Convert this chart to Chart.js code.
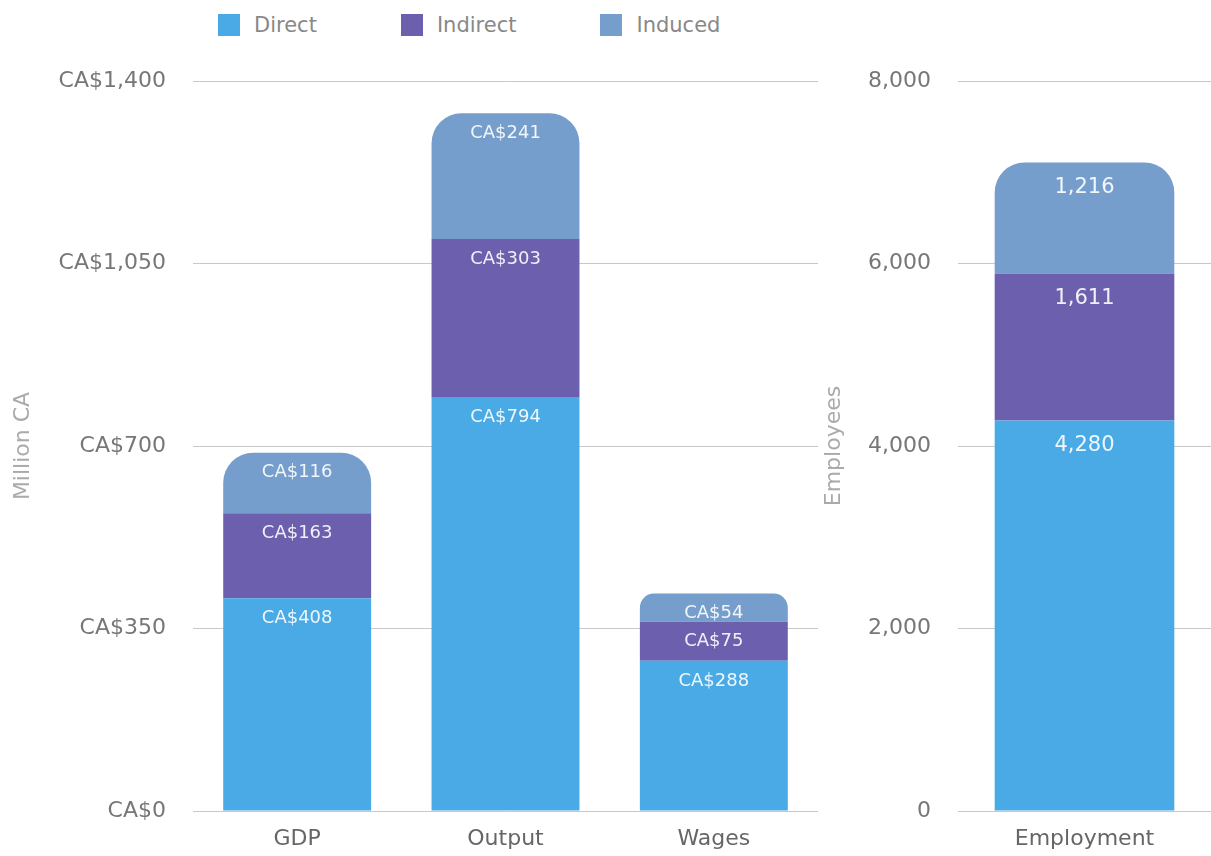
<!DOCTYPE html>
<html>
<head>
<meta charset="utf-8">
<script src="https://cdn.jsdelivr.net/npm/chart.js@4/dist/chart.umd.min.js"></script>
<style>
	html, body { margin: 0; padding: 0; background: #fff; }
	#wrap { position: relative; width: 1211px; height: 856px; font-family: "DejaVu Sans", sans-serif; }
	#left { position: absolute; left: 0; top: 0; width: 820px; height: 856px; }
	#right { position: absolute; left: 820px; top: 0; width: 391px; height: 856px; }
	#legend { position: absolute; left: 218px; top: 13px; display: flex; gap: 84px; }
	#legend .item { display: flex; align-items: center; color: #888; font-size: 21px; }
	#legend .box { width: 22px; height: 22px; margin-right: 14px; }
</style>
</head>
<body>
<div id="wrap">
	<div id="legend"></div>
	<div id="left"><canvas id="money"></canvas></div>
	<div id="right"><canvas id="jobs"></canvas></div>
</div>
<script>
var seriesNames = ["Direct", "Indirect", "Induced"];
var seriesColors = ["#4aaae6", "#6c60ae", "#759ecc"];

var moneyCats = ["GDP", "Output", "Wages"];
var moneyDirect = [408, 794, 288];
var moneyIndirect = [163, 303, 75];
var moneyInduced = [116, 241, 54];
var moneyTicks = [0, 350, 700, 1050, 1400];

var jobCats = ["Employment"];
var jobDirect = [4280];
var jobIndirect = [1611];
var jobInduced = [1216];
var jobTicks = [0, 2000, 4000, 6000, 8000];

var fontFam = "'DejaVu Sans', sans-serif";

// html legend
seriesNames.forEach(function(n, i) {
	var it = document.createElement("div");
	it.className = "item";
	it.innerHTML = '<span class="box" style="background:' + seriesColors[i] + '"></span>' + n;
	document.getElementById("legend").appendChild(it);
});

function fmt(v) { return v.toLocaleString("en-US"); }

// white value labels near top of each segment
function labelPlugin(prefix, size, off) {
	return {
		id: "segLabels",
		afterDatasetsDraw: function(chart) {
			var ctx = chart.ctx;
			ctx.save();
			ctx.fillStyle = "rgba(255,255,255,0.9)";
			ctx.font = size + "px " + fontFam;
			ctx.textAlign = "center";
			ctx.textBaseline = "middle";
			chart.data.datasets.forEach(function(ds, di) {
				chart.getDatasetMeta(di).data.forEach(function(bar, i) {
					ctx.fillText(prefix + fmt(ds.data[i]), bar.x, bar.y + off);
				});
			});
			ctx.restore();
		}
	};
}

function makeSets(a, b, c) {
	return [a, b, c].map(function(d, i) {
		return {
			label: seriesNames[i],
			data: d,
			backgroundColor: seriesColors[i],
			borderWidth: 0,
			borderRadius: i == 2 ? { topLeft: 30, topRight: 30, bottomLeft: 0, bottomRight: 0 } : 0,
			borderSkipped: "bottom",
			barPercentage: 0.71,
			categoryPercentage: 1
		};
	});
}

function opts(max, step, tickFmt, title, yWidth, titlePad) {
	return {
		responsive: true,
		maintainAspectRatio: false,
		animation: false,
		layout: { padding: { top: 81, bottom: 0, left: 0, right: 2 } },
		plugins: { legend: { display: false }, tooltip: { enabled: false } },
		scales: {
			x: {
				stacked: true,
				afterFit: function(s) { s.height = 45; },
				grid: { display: false, drawTicks: false },
				border: { display: false },
				ticks: { color: "#666", font: { family: fontFam, size: 22 }, padding: 15 }
			},
			y: {
				stacked: true,
				min: 0,
				max: max,
				afterFit: function(s) { s.width = yWidth; },
				grid: { color: "#c8c8c8", drawTicks: false },
				border: { display: false },
				ticks: {
					stepSize: step,
					color: "#777",
					padding: 27,
					font: { family: fontFam, size: 22 },
					callback: tickFmt
				},
				title: {
					display: true,
					text: title,
					color: "#aaa",
					font: { family: fontFam, size: 22 },
					padding: { top: titlePad, bottom: 4 }
				}
			}
		}
	};
}

var leftOpts = opts(moneyTicks[moneyTicks.length - 1], moneyTicks[1],
	function(v) { return "CA$" + fmt(v); }, "Million CA", 193, 10);
new Chart(document.getElementById("money"), {
	type: "bar",
	data: { labels: moneyCats, datasets: makeSets(moneyDirect, moneyIndirect, moneyInduced) },
	options: leftOpts,
	plugins: [labelPlugin("CA$", 18, 20)]
});

var rightOpts = opts(jobTicks[jobTicks.length - 1], jobTicks[1],
	function(v) { return fmt(v); }, "Employees", 138, 1);
rightOpts.layout.padding.right = 0;
new Chart(document.getElementById("jobs"), {
	type: "bar",
	data: { labels: jobCats, datasets: makeSets(jobDirect, jobIndirect, jobInduced) },
	options: rightOpts,
	plugins: [labelPlugin("", 21, 25)]
});
</script>
</body>
</html>
